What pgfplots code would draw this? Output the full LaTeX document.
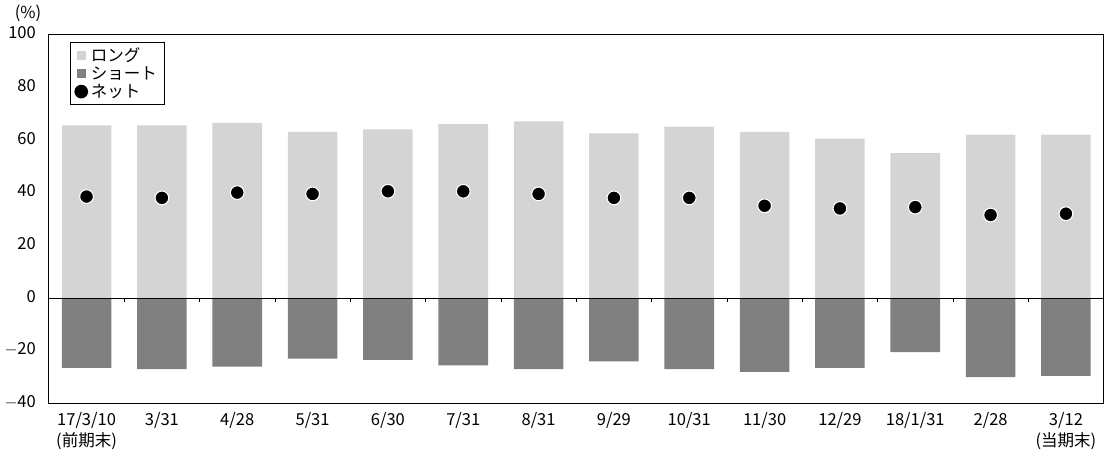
\documentclass[border=0pt]{standalone}
\usepackage{pgfplots}
\pgfplotsset{compat=1.18}
\usepackage{fontspec}
\setmainfont{Noto Sans CJK JP}
\begin{document}
\begin{tikzpicture}
\begin{axis}[
  scale only axis, width=766pt, height=268pt,
  xmin=-0.5, xmax=13.5, ymin=-40, ymax=100,
  ytick={-40,-20,0,20,40,60,80,100},
  yticklabels={$-$40,$-$20,0,20,40,60,80,100},
  xtick={0,...,13},
  xticklabels={{17/3/10\\(前期末)},3/31,4/28,5/31,6/30,7/31,8/31,9/29,10/31,11/30,12/29,18/1/31,2/28,{3/12\\(当期末)}},
  xticklabel style={align=center, anchor=north, yshift=-2pt},
  yticklabel style={xshift=-6pt},
  typeset ticklabels with strut,
  xtick style={draw=none}, ytick style={draw=none},
  tick label style={font=\fontsize{12}{15}\selectfont},
  /pgf/number format/assume math mode=true,
  axis line style={black, line width=0.6pt},
  legend style={at={(0.02,0.98)}, anchor=north west, draw=black, font=\fontsize{12}{14}\selectfont, legend cell align=left, row sep=-2pt},
  clip=false,
]
\addplot[ybar, bar width=36pt, bar shift=0pt, fill=black!17, draw=none, legend image code/.code={\fill[black!17] (0.05cm,-0.11cm) rectangle (0.27cm,0.11cm);}] coordinates {(0,65.5)(1,65.5)(2,66.5)(3,63)(4,64)(5,66)(6,67)(7,62.5)(8,65)(9,63)(10,60.5)(11,55)(12,62)(13,62)};
\addlegendentry{ロング}
\addplot[ybar, bar width=36pt, bar shift=0pt, fill=black!50, draw=none, legend image code/.code={\fill[black!50] (0.05cm,-0.11cm) rectangle (0.27cm,0.11cm);}] coordinates {(0,-26.5)(1,-27)(2,-26)(3,-23)(4,-23.5)(5,-25.5)(6,-27)(7,-24)(8,-27)(9,-28)(10,-26.5)(11,-20.5)(12,-30)(13,-29.5)};
\addlegendentry{ショート}
\addplot[only marks, mark=*, mark size=5pt, fill=black, draw=white, line width=0.8pt, legend image code/.code={\fill[black] (0.16cm,0cm) circle (0.16cm);}] coordinates {(0,38.5)(1,38)(2,40)(3,39.5)(4,40.5)(5,40.5)(6,39.5)(7,38)(8,38)(9,35)(10,34)(11,34.5)(12,31.5)(13,32)};
\addlegendentry{ネット}
\draw[black, line width=0.6pt] (axis cs:-0.5,0) -- (axis cs:13.5,0);
\pgfplotsinvokeforeach{0.5,1.5,2.5,3.5,4.5,5.5,6.5,7.5,8.5,9.5,10.5,11.5,12.5}{\draw[black] (axis cs:#1,0) -- (axis cs:#1,-1.6);}
\node[anchor=south east, font=\fontsize{12}{14}\selectfont] at (rel axis cs:0,1) [yshift=6pt, xshift=-2pt] {(\%)};
\end{axis}
\end{tikzpicture}
\end{document}
